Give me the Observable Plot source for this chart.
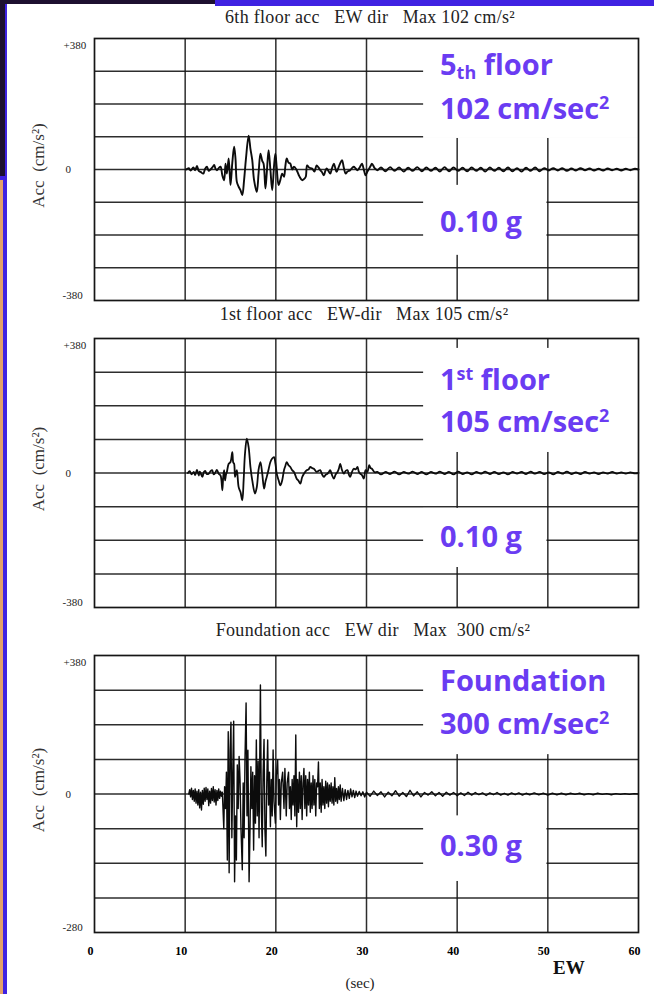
<!DOCTYPE html>
<html>
<head>
<meta charset="utf-8">
<script src="https://cdn.jsdelivr.net/npm/d3@7"></script>
<script src="https://cdn.jsdelivr.net/npm/@observablehq/plot@0.6"></script>
<style>
  html, body { margin: 0; padding: 0; }
  body { width: 654px; height: 994px; position: relative; overflow: hidden; background: #fff; }
  .abs { position: absolute; }
  .ptitle { position: absolute; font-family: "Liberation Serif", "DejaVu Serif", serif; font-size: 18px; color: #222; white-space: pre; transform: translateX(-50%); letter-spacing: 0.3px; }
  .note { position: absolute; left: 440px; font-family: "Open Sans", "Noto Sans", sans-serif; font-weight: 700; font-size: 29px; line-height: 29px; color: #6a3cf2; white-space: pre; }
  .note sub { font-size: 0.62em; vertical-align: -0.25em; line-height: 0; }
  .note sup { font-size: 0.62em; vertical-align: 0.55em; line-height: 0; }
  .panel { position: absolute; left: 0; }
</style>
</head>
<body>
<script>
// ---------------- data ----------------
const timeTicks = [0, 10, 20, 30, 40, 50, 60];
const gridLevels = [-285, -190, -95, 0, 95, 190, 285];
const topLabels = ["+380", "+380", "+380"];
const bottomLabels = ["-380", "-380", "-280"];
const panelTitles = [
  "6th floor acc   EW dir   Max 102 cm/s²",
  "1st floor acc   EW-dir   Max 105 cm/s²",
  "Foundation acc   EW dir   Max  300 cm/s²"
];
const noteNames = ["5<sub>th</sub> floor", "1<sup>st</sup> floor", "Foundation"];
const notePeaks = ["102 cm/sec<sup>2</sup>", "105 cm/sec<sup>2</sup>", "300 cm/sec<sup>2</sup>"];
const noteG = ["0.10 g", "0.10 g", "0.30 g"];

// [time s, acceleration cm/s²]
const floor6 = [
  [10.1,0],[10.4,4],[10.6,-3],[10.9,6],[11.1,-2],[11.3,10],[11.5,-4],[11.7,-7],[12.0,-12],[12.2,2],[12.4,8],[12.6,-4],[12.8,0],[13.0,6],[13.2,13],[13.35,2],[13.5,-2],[13.7,4],[13.9,8],[14.1,-17],[14.3,-31],[14.45,17],[14.6,-12],[14.8,32],[15.0,-45],[15.2,20],[15.4,66],[15.55,32],[15.7,-36],[15.9,-50],[16.1,-60],[16.3,-74],[16.5,-30],[16.7,30],[17.0,98],[17.2,60],[17.4,27],[17.6,-31],[17.9,-65],[18.1,-10],[18.3,46],[18.5,25],[18.65,17],[18.85,-55],[19.0,-10],[19.2,56],[19.4,0],[19.6,-60],[19.8,10],[19.95,46],[20.1,5],[20.3,-45],[20.5,-30],[20.7,-12],[20.9,-21],[21.05,10],[21.2,32],[21.4,20],[21.6,17],[21.8,0],[22.0,8],[22.3,-2],[22.6,-20],[22.9,-31],[23.1,-28],[23.3,-21],[23.45,12],[23.7,5],[24.0,3],[24.25,-6],[24.5,12],[24.7,6],[24.9,-2],[25.1,-8],[25.3,-17],[25.45,-5],[25.6,3],[25.8,-4],[26.0,-12],[26.2,4],[26.4,17],[26.55,5],[26.7,-7],[26.9,5],[27.1,18],[27.3,27],[27.5,5],[27.7,-12],[27.9,-6],[28.2,-2],[28.4,4],[28.6,8],[28.8,3],[29.0,-2],[29.25,6],[29.5,17],[29.7,0],[29.9,-17],[30.1,-6],[30.3,3],[30.45,10],[30.6,17],[30.9,4],[31.2,-2],
  [31.6,6],[32.1,-5],[32.6,7],[33.1,-4],[33.6,6],[34.1,-6],[34.6,5],[35.1,-4],[35.6,7],[36.1,-5],[36.6,6],[37.1,-4],[37.6,5],[38.1,-6],[38.6,7],[39.1,-5],[39.6,6],[40.1,-4],[40.6,5],[41.1,-5],[41.6,6],[42.1,-4],[42.6,5],[43.1,-6],[43.6,6],[44.1,-4],[44.6,5],[45.1,-5],[45.6,6],[46.1,-5],[46.6,4],[47.1,-6],[47.6,5],[48.1,-4],[48.6,6],[49.1,-5],[49.6,4],[50.1,-3],[50.6,4],[51.1,-3],[51.6,4],[52.1,-4],[52.6,3],[53.1,-3],[53.6,4],[54.1,-2],[54.6,3],[55.1,-3],[55.6,2],[56.1,-3],[56.6,3],[57.1,-2],[57.6,2],[58.1,-3],[58.6,2],[59.1,-2],[59.6,2],[60,0]
];

const floor1 = [
  [10.3,0],[10.5,5],[10.7,-4],[10.95,3],[11.1,-6],[11.3,9],[11.5,-7],[11.6,4],[11.7,0],[11.9,-11],[12.05,2],[12.2,6],[12.4,-3],[12.6,-2],[12.8,5],[12.97,8],[13.15,-4],[13.3,0],[13.5,9],[13.7,-2],[13.9,-7],[14.0,-20],[14.1,-49],[14.2,-10],[14.3,8],[14.4,-21],[14.5,-5],[14.6,3],[14.8,26],[15.0,31],[15.2,59],[15.3,30],[15.4,26],[15.5,-11],[15.6,0],[15.7,8],[15.9,-40],[16.1,-54],[16.3,-77],[16.45,-20],[16.6,55],[16.8,97],[17.0,73],[17.2,17],[17.4,-21],[17.7,-58],[17.9,-40],[18.1,10],[18.3,31],[18.5,-2],[18.7,-44],[18.85,-25],[19.0,-11],[19.2,10],[19.4,31],[19.6,41],[19.8,45],[19.96,26],[20.1,-2],[20.3,-20],[20.5,-35],[20.7,-21],[20.9,8],[21.05,20],[21.2,31],[21.4,22],[21.6,17],[21.8,8],[22.0,3],[22.3,-16],[22.5,-22],[22.7,-30],[22.9,-12],[23.1,-2],[23.4,8],[23.6,10],[23.8,17],[24.0,14],[24.2,12],[24.5,3],[24.7,6],[24.9,8],[25.1,-4],[25.3,-11],[25.5,-5],[25.7,-2],[25.85,3],[26.0,8],[26.2,-6],[26.4,-16],[26.6,-4],[26.8,3],[26.95,12],[27.1,26],[27.3,8],[27.5,-2],[27.7,6],[27.9,8],[28.05,-4],[28.2,-11],[28.4,3],[28.6,12],[28.8,10],[29.0,17],[29.15,4],[29.3,-2],[29.5,-6],[29.7,-16],[29.9,8],[30.1,3],[30.3,22],[30.45,14],[30.6,12],[30.9,2],[31.2,3],
  [31.6,-4],[32.1,3],[32.6,-3],[33.1,4],[33.6,-4],[34.1,3],[34.6,-2],[35.1,4],[35.6,-3],[36.1,3],[36.6,-4],[37.1,3],[37.6,-2],[38.1,4],[38.6,-3],[39.1,3],[39.6,-4],[40.1,4],[40.6,-3],[41.1,2],[41.6,-4],[42.1,3],[42.6,-2],[43.1,4],[43.6,-3],[44.1,3],[44.6,-3],[45.1,2],[45.6,-4],[46.1,3],[46.6,-2],[47.1,3],[47.6,-3],[48.1,4],[48.6,-2],[49.1,3],[49.6,-3],[50.1,2],[50.6,-4],[51.1,3],[51.6,-2],[52.1,4],[52.6,-3],[53.1,2],[53.6,-3],[54.1,3],[54.6,-2],[55.1,2],[55.6,-3],[56.1,2],[56.6,-2],[57.1,3],[57.6,-2],[58.1,2],[58.6,-2],[59.1,2],[59.6,-1],[60,0]
];

const foundation = [
  [10.4,0],[10.5,12],[10.6,-8],[10.7,16],[10.8,-15],[10.9,10],[11.0,-20],[11.1,14],[11.2,-25],[11.3,8],[11.4,-30],[11.5,12],[11.6,-38],[11.7,5],[11.8,-44],[11.9,10],[12.0,-28],[12.1,16],[12.2,-20],[12.3,18],[12.4,-15],[12.5,14],[12.6,-32],[12.7,8],[12.8,-25],[12.9,15],[13.0,-18],[13.1,20],[13.2,-22],[13.3,12],[13.4,-30],[13.5,10],[13.6,-18],[13.7,14],[13.8,-12],[13.9,8],[14.0,-6],[14.1,5],
  [14.26,-95],[14.35,20],[14.45,-40],[14.55,60],[14.65,-181],[14.75,171],[14.85,-216],[14.95,120],[15.05,197],[15.15,-120],[15.25,60],[15.35,200],[15.45,-241],[15.55,-60],[15.65,-181],[15.75,80],[15.85,-40],[15.95,103],[16.05,40],[16.15,-90],[16.3,-208],[16.4,30],[16.5,-120],[16.6,100],[16.72,250],[16.82,-60],[16.92,120],[17.05,-241],[17.15,-100],[17.25,75],[17.35,-40],[17.45,60],[17.55,-154],[17.65,50],[17.75,-80],[17.85,148],[17.95,-60],[18.05,90],[18.15,-120],[18.3,299],[18.4,-40],[18.5,-145],[18.6,60],[18.7,150],[18.8,-100],[18.9,-170],[19.0,30],[19.1,148],[19.2,-30],[19.3,60],[19.4,-90],[19.5,40],[19.6,-60],[19.7,121],[19.8,-20],[19.95,-80],[20.05,50],[20.2,94],[20.3,-30],[20.4,40],[20.5,-70],[20.6,30],[20.75,60],[20.9,-40],[21.0,70],[21.15,-60],[21.25,30],[21.4,60],[21.5,-40],[21.6,20],[21.7,-70],[21.8,40],[21.9,-30],[22.0,50],[22.1,-60],[22.2,162],[22.3,-90],[22.4,40],[22.5,-50],[22.6,60],[22.7,-40],[22.8,50],[22.9,-70],[23.0,30],[23.1,70],[23.2,-40],[23.3,50],[23.4,-60],[23.5,40],[23.6,-30],[23.7,60],[23.8,-50],[23.9,30],[24.0,-40],[24.1,50],[24.2,-30],[24.3,40],[24.4,-60],[24.5,30],[24.6,20],[24.7,88],[24.8,-40],[24.9,30],[25.0,-50],[25.1,40],[25.2,-30],[25.3,20],[25.4,-40],[25.5,35],[25.6,-25],[25.7,30],[25.8,-35],[25.9,25],[26.0,-20],[26.1,30],[26.2,-25],[26.3,20],[26.4,-30],[26.5,45],[26.6,-20],[26.7,15],[26.8,-25],[26.9,20],[27.0,-15],[27.1,25],[27.2,-20],[27.35,15],[27.5,-18],[27.65,12],[27.8,-15],[27.95,10],[28.1,-12],[28.25,14],[28.4,-8],[28.55,10],[28.7,-10],[28.85,8],[29.0,-6],[29.2,7],[29.4,-5],[29.6,6],[29.8,-8],[30.0,5],
  [30.4,-6],[30.8,8],[31.2,-4],[31.6,6],[32.0,-8],[32.4,5],[32.8,-5],[33.2,9],[33.6,-6],[34.0,4],[34.4,-7],[34.8,10],[35.2,-5],[35.6,6],[36.0,-8],[36.4,4],[36.8,-3],[37.2,6],[37.6,-5],[38.0,4],[38.4,-6],[38.8,5],[39.2,-3],[39.6,4],[40.0,-5],[40.4,3],[40.8,-4],[41.2,5],[41.6,-3],[42.0,4],[42.4,-2],[42.8,3],[43.2,-4],[43.6,3],[44.0,-2],[44.4,4],[44.8,-3],[45.2,2],[45.6,-3],[46.0,3],[46.4,-2],[46.8,3],[47.2,-3],[47.6,2],[48.0,-2],[48.5,3],[49.0,-2],[49.5,2],[50.0,-3],[50.5,2],[51.0,-2],[51.5,2],[52.0,-2],[52.5,2],[53.0,-1],[53.5,2],[54.0,-2],[54.5,1],[55.0,-2],[55.5,2],[56.0,-1],[56.5,1],[57.0,-2],[57.5,1],[58.0,-1],[58.5,1],[59.0,-1],[59.5,1],[60,0]
];

// ---------------- layout ----------------
const INK = "#161616";
const serif = "'Liberation Serif', 'DejaVu Serif', serif";

const panels = [
  { data: floor6, top: 0, height: 310, mt: 38, mb: 10, curve: "catmull-rom", sw: 1.9,
    upper: [36.3, 60, 90, 380], lower: [36.3, 49.9, -249, -46],
    title: {x: 370, y: 7}, notes: [50, 94, 207] },
  { data: floor1, top: 320, height: 297, mt: 18, mb: 10, curve: "catmull-rom", sw: 1.8,
    upper: [36.3, 60, 58, 352], lower: [36.3, 49.9, -267, -100],
    title: {x: 364, y: 304}, notes: [365, 407, 522] },
  { data: foundation, top: 630, height: 364, mt: 25, mb: 62, curve: "linear", sw: 1.4,
    upper: [36.3, 60, 108, 380], lower: [36.3, 49.9, -240, -60],
    title: {x: 373, y: 620}, notes: [666, 709, 831] }
];

panels.forEach((p, i) => {
  const marks = [
    Plot.ruleY(gridLevels, {stroke: INK, strokeWidth: 1.5, strokeOpacity: 0.9}),
    Plot.ruleX(timeTicks.slice(1, -1), {stroke: INK, strokeWidth: 1.5, strokeOpacity: 0.9}),
    Plot.rect([p.upper, p.lower], {x1: d => d[0], x2: d => d[1], y1: d => d[2], y2: d => d[3], fill: "white"}),
    Plot.line(p.data, {x: d => d[0], y: d => d[1], stroke: "#0c0c0c", strokeWidth: p.sw, curve: p.curve}),
    Plot.frame({stroke: INK, strokeWidth: 1.7}),
    Plot.text([topLabels[i]], {y: 380, frameAnchor: "left", dx: -31, textAnchor: "start", lineAnchor: "top", dy: 3, fontSize: 11, fontFamily: serif, fill: "#222"}),
    Plot.text(["0"], {y: 0, frameAnchor: "left", dx: -29, textAnchor: "start", lineAnchor: "middle", fontSize: 11, fontFamily: serif, fill: "#222"}),
    Plot.text([bottomLabels[i]], {y: -380, frameAnchor: "left", dx: -32, textAnchor: "start", lineAnchor: "bottom", dy: -2, fontSize: 11, fontFamily: serif, fill: "#222"}),
    Plot.text(["Acc  (cm/s²)"], {y: 0, frameAnchor: "left", dx: -56, dy: -4, rotate: -90, textAnchor: "middle", fontSize: 17, fontFamily: serif, fill: "#333"})
  ];
  if (i === 2) {
    marks.push(Plot.axisX(timeTicks, {tickSize: 0, tickPadding: 14, dx: -4, fontSize: 12, fontWeight: "bold", fontFamily: serif, label: null, tickFormat: d => String(d)}));
  }
  const chart = Plot.plot({
    width: 654, height: p.height,
    marginLeft: 94, marginRight: 16, marginTop: p.mt, marginBottom: p.mb,
    x: {domain: [0, 60], axis: null},
    y: {domain: [-380, 380], axis: null},
    style: {background: "transparent", overflow: "visible"},
    marks
  });
  const holder = document.createElement("div");
  holder.className = "panel";
  holder.style.top = p.top + "px";
  holder.appendChild(chart);
  document.body.appendChild(holder);

  const t = document.createElement("div");
  t.className = "ptitle";
  t.style.left = p.title.x + "px";
  t.style.top = p.title.y + "px";
  t.textContent = panelTitles[i];
  document.body.appendChild(t);

  [noteNames[i], notePeaks[i], noteG[i]].forEach((html, k) => {
    const n = document.createElement("div");
    n.className = "note";
    n.style.top = (p.notes[k] - 1) + "px";
    n.innerHTML = html;
    document.body.appendChild(n);
  });
});

// x-axis caption and EW mark
const sec = document.createElement("div");
sec.className = "abs";
sec.style.cssText = "left:360px;top:975px;transform:translateX(-50%);font-family:" + serif + ";font-size:15px;color:#222;";
sec.textContent = "(sec)";
document.body.appendChild(sec);

const ew = document.createElement("div");
ew.className = "abs";
ew.style.cssText = "left:553px;top:957px;font-family:" + serif + ";font-size:19px;font-weight:bold;color:#111;";
ew.textContent = "EW";
document.body.appendChild(ew);

// slide border
const borders = [
  "left:215px;top:0;width:439px;height:6px;background:#3f22e2;",
  "left:0;top:0;width:215px;height:4px;background:#1d1030;",
  "left:0;top:0;width:7px;height:178px;background:#1d1030;",
  "left:5px;top:4px;width:2px;height:174px;background:#3f22e2;",
  "left:0;top:176px;width:7px;height:4px;background:#3f22e2;",
  "left:0;top:180px;width:3px;height:814px;background:#e3a06a;",
  "left:3px;top:180px;width:4px;height:814px;background:#3f22e2;"
];
borders.forEach(css => {
  const b = document.createElement("div");
  b.className = "abs";
  b.style.cssText = css;
  document.body.appendChild(b);
});
</script>
</body>
</html>
